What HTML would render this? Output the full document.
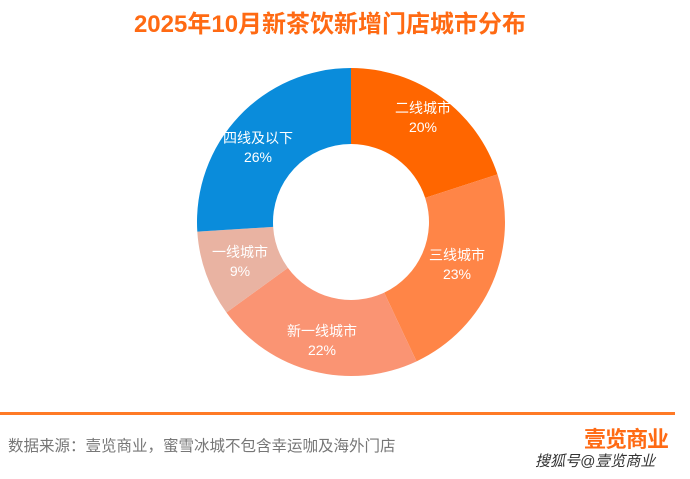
<!DOCTYPE html>
<html><head><meta charset="utf-8"><style>
body{margin:0;width:690px;height:479px;background:#fff;overflow:hidden;position:relative;font-family:"Liberation Sans","Noto Sans CJK SC",sans-serif}
.t{position:absolute;left:0;width:660px;top:4px;text-align:center;font-size:24px;font-weight:bold;color:#FF6A13}
.line{position:absolute;left:0;top:412px;width:675px;height:3px;background:#FF7A26}
.src{position:absolute;left:8px;top:434px;font-size:15.5px;color:#777}
.logo{position:absolute;left:584px;top:422px;font-size:22px;font-weight:bold;color:#FF6A13;letter-spacing:-1px}
.wm{position:absolute;left:535px;top:450px;font-size:15px;color:#333;font-style:italic}
</style></head><body>
<div class="t">2025年10月新茶饮新增门店城市分布</div>
<svg id="s" width="690" height="479" style="position:absolute;left:0;top:0"></svg>
<div class="line"></div>
<div class="src">数据来源：壹览商业，蜜雪冰城不包含幸运咖及海外门店</div>
<div class="logo">壹览商业</div>
<div class="wm">搜狐号@壹览商业</div>
<script>
var cx=351,cy=222,R=154,r=78;
var d=[[20,"#FF6600","二线城市",423,113],[23,"#FF8547","三线城市",457,260],[22,"#FA9473","新一线城市",322,336],[9,"#E9B3A2","一线城市",240,257],[26,"#0A8CDB","四线及以下",258,143]];
var s="",a=0;
function p(ang,rad){return [cx+rad*Math.sin(ang*Math.PI/180),cy-rad*Math.cos(ang*Math.PI/180)];}
d.forEach(function(e){var b=a+e[0]*3.6;var l=(b-a)>180?1:0;
var p1=p(a,R),p2=p(b,R),p3=p(b,r),p4=p(a,r);
s+='<path d="M'+p1+' A'+R+','+R+' 0 '+l+' 1 '+p2+' L'+p3+' A'+r+','+r+' 0 '+l+' 0 '+p4+' Z" fill="'+e[1]+'"/>';
s+='<text x="'+e[3]+'" y="'+e[4]+'" fill="#fff" font-size="14" text-anchor="middle">'+e[2]+'</text>';
s+='<text x="'+e[3]+'" y="'+(e[4]+19)+'" fill="#fff" font-size="14" text-anchor="middle">'+e[0]+'%</text>';
a=b;});
document.getElementById("s").innerHTML=s;
</script>
</body></html>
